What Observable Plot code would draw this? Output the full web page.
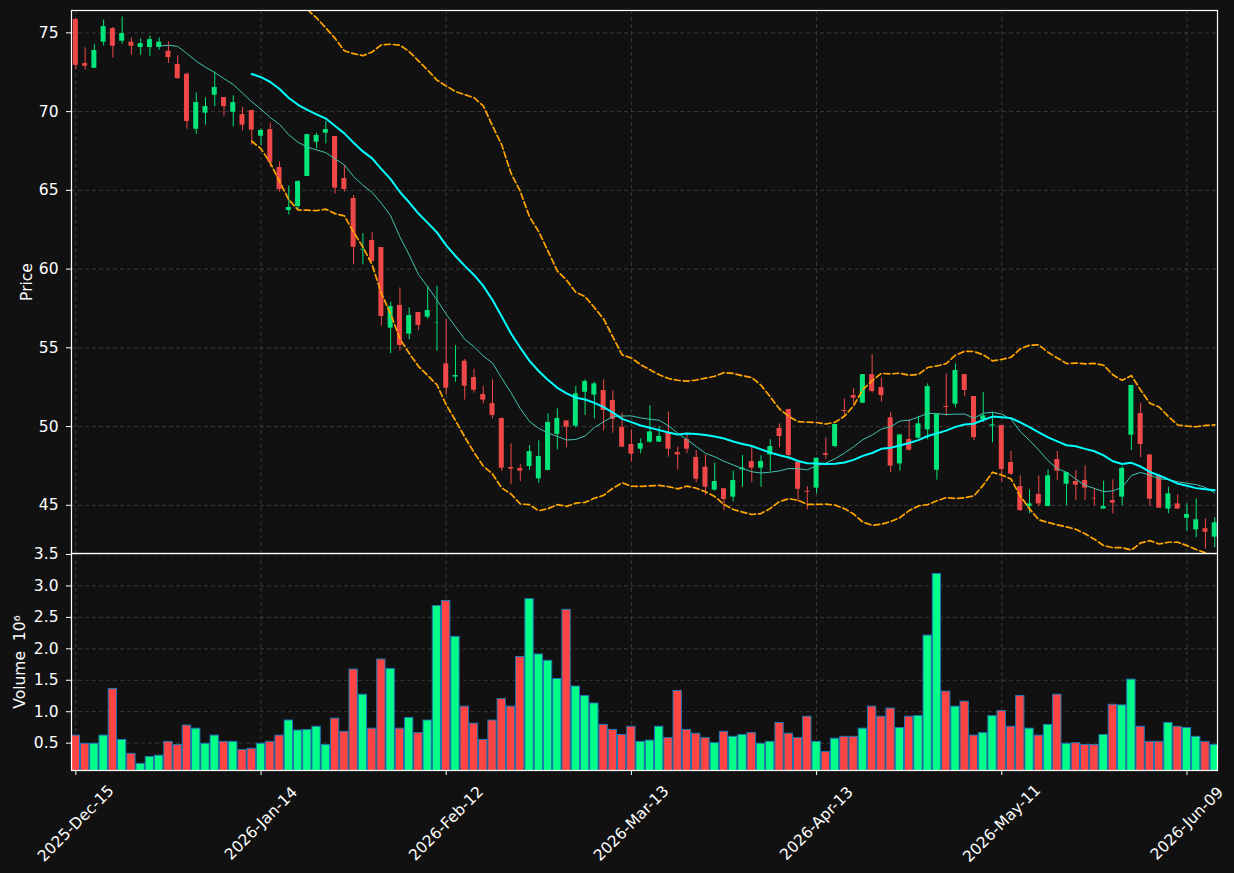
<!DOCTYPE html>
<html>
<head>
<meta charset="utf-8">
<script src="https://cdn.jsdelivr.net/npm/d3@7"></script>
<script src="https://cdn.jsdelivr.net/npm/@observablehq/plot@0.6"></script>
<style>
  html, body { margin: 0; padding: 0; background: #111111; }
  #chart { width: 1234px; height: 873px; background: #111111; }
  #chart svg { display: block; }
</style>
</head>
<body>
<div id="chart"></div>
<script>
// ---- Data ----
const tickIndex = [0, 20, 40, 60, 80, 100, 120];
const tickLabels = ["2025-Dec-15", "2026-Jan-14", "2026-Feb-12", "2026-Mar-13", "2026-Apr-13", "2026-May-11", "2026-Jun-09"];
const priceTicks = [45, 50, 55, 60, 65, 70, 75];
const volumeTicks = [0.5, 1.0, 1.5, 2.0, 2.5, 3.0, 3.5];

const opens = [
  75.85, 73.05, 72.75, 74.41, 75.27, 74.47, 74.41, 74.07, 74.07, 74.07,
  73.83, 72.99, 72.37, 68.88, 69.90, 71.04, 70.89, 69.96, 69.81, 70.07,
  68.44, 68.86, 66.45, 63.72, 63.97, 65.88, 68.06, 68.63, 68.42, 65.75,
  64.48, 61.22, 61.81, 61.37, 56.25, 57.69, 55.87, 57.24, 56.95, 56.59,
  53.98, 53.14, 54.15, 53.11, 52.04, 51.46, 50.51, 47.40, 47.34, 47.46,
  46.68, 47.21, 49.50, 50.36, 50.03, 52.18, 52.00, 52.29, 51.65, 49.94,
  48.86, 48.56, 49.01, 49.01, 49.62, 48.35, 49.18, 48.04, 47.42, 45.96,
  46.05, 45.52, 47.25, 47.78, 47.36, 48.20, 49.88, 51.08, 47.72, 45.89,
  46.09, 48.29, 48.73, 51.02, 51.97, 51.48, 53.30, 52.48, 50.55, 47.63,
  49.18, 49.26, 49.79, 47.23, 51.27, 51.42, 53.30, 51.91, 50.43, 50.03,
  50.07, 47.72, 46.19, 44.92, 45.69, 44.92, 47.91, 46.34, 46.51, 46.58,
  45.45, 44.76, 45.30, 45.52, 49.45, 50.83, 48.20, 46.89, 44.76, 45.09,
  44.18, 43.44, 43.51, 42.98
];
const highs = [
  75.90, 74.05, 74.26, 75.82, 75.34, 76.01, 74.68, 74.62, 74.81, 74.68,
  74.43, 73.54, 72.46, 71.19, 70.87, 72.52, 70.89, 71.00, 70.26, 70.07,
  68.90, 69.28, 66.81, 65.28, 65.62, 68.54, 68.63, 69.37, 68.42, 66.58,
  64.67, 62.24, 62.30, 61.37, 57.90, 58.81, 57.54, 57.24, 58.91, 58.91,
  56.78, 55.13, 54.26, 53.64, 52.54, 52.97, 50.55, 48.90, 47.61, 48.78,
  49.09, 50.81, 51.12, 50.36, 52.54, 52.97, 52.82, 52.97, 52.27, 50.85,
  49.79, 49.22, 51.32, 50.00, 50.93, 48.69, 49.54, 48.48, 48.18, 47.68,
  46.05, 47.17, 48.16, 48.69, 48.14, 49.16, 50.17, 51.08, 47.72, 46.19,
  48.00, 49.28, 50.13, 51.76, 52.40, 53.30, 54.58, 53.07, 50.91, 49.47,
  50.43, 50.66, 52.71, 50.76, 53.35, 53.98, 53.30, 51.91, 52.18, 50.91,
  50.07, 48.42, 46.87, 45.98, 46.87, 47.25, 48.42, 47.08, 47.21, 47.51,
  46.04, 46.53, 46.62, 47.46, 52.61, 51.48, 48.20, 46.89, 46.15, 45.67,
  45.09, 45.41, 44.14, 44.21
];
const lows = [
  72.67, 72.63, 72.75, 74.17, 73.41, 74.28, 73.58, 73.58, 73.52, 73.90,
  73.05, 72.04, 68.88, 68.56, 69.14, 70.32, 69.71, 69.03, 68.78, 67.87,
  67.85, 66.47, 64.88, 63.44, 63.76, 65.88, 67.63, 67.95, 64.78, 64.88,
  60.27, 60.27, 60.45, 56.37, 54.62, 54.79, 55.51, 56.10, 56.82, 54.79,
  52.00, 52.82, 51.68, 52.12, 51.44, 50.49, 47.15, 46.30, 46.50, 47.21,
  46.40, 47.21, 48.52, 48.65, 49.92, 50.70, 50.49, 49.73, 49.58, 48.69,
  47.74, 48.27, 48.95, 49.00, 48.06, 47.25, 48.27, 46.43, 45.62, 45.90,
  44.65, 45.22, 46.15, 46.43, 46.15, 47.17, 48.65, 47.89, 45.20, 44.71,
  45.73, 47.93, 48.65, 50.60, 51.40, 51.48, 52.12, 51.55, 47.06, 47.17,
  48.44, 49.26, 49.16, 46.60, 50.66, 51.19, 51.91, 49.09, 50.28, 48.97,
  46.47, 46.90, 44.60, 44.46, 44.92, 44.92, 46.58, 44.97, 45.30, 45.30,
  44.97, 44.76, 44.46, 44.97, 48.48, 48.01, 44.92, 44.82, 44.46, 44.76,
  43.36, 42.94, 42.22, 42.30
];
const closes = [
  72.94, 72.88, 73.88, 75.40, 74.15, 74.96, 74.15, 74.32, 74.57, 74.41,
  73.43, 72.10, 69.37, 70.57, 70.32, 71.53, 70.32, 70.57, 69.14, 68.82,
  68.80, 66.79, 65.05, 63.91, 65.56, 68.54, 68.48, 68.86, 65.14, 65.05,
  61.39, 61.26, 60.48, 56.99, 57.62, 55.15, 57.05, 56.42, 57.37, 56.61,
  52.44, 53.24, 52.56, 52.31, 51.68, 50.70, 47.36, 47.30, 47.17, 48.41,
  48.10, 50.26, 50.51, 49.96, 52.08, 52.86, 52.71, 51.02, 50.47, 48.69,
  48.25, 48.92, 49.66, 49.37, 48.56, 48.20, 48.56, 46.66, 46.15, 46.51,
  45.37, 46.57, 47.36, 47.36, 47.78, 48.73, 49.37, 48.16, 46.02, 45.83,
  47.99, 48.18, 50.13, 50.96, 51.80, 53.30, 52.23, 51.97, 47.49, 49.47,
  48.50, 50.17, 52.54, 50.76, 51.21, 53.56, 52.29, 49.30, 50.68, 50.11,
  47.27, 46.98, 44.67, 45.09, 45.09, 46.87, 47.17, 47.08, 46.28, 46.09,
  45.41, 44.92, 45.14, 47.34, 52.61, 48.86, 45.39, 44.82, 45.73, 44.76,
  44.42, 44.08, 43.29, 43.89
];
// volume in millions
const volumes = [
  0.62, 0.49, 0.49, 0.62, 1.36, 0.55, 0.33, 0.17, 0.28, 0.30,
  0.52, 0.47, 0.78, 0.73, 0.49, 0.62, 0.52, 0.52, 0.39, 0.41,
  0.49, 0.52, 0.62, 0.86, 0.70, 0.71, 0.76, 0.47, 0.89, 0.68,
  1.67, 1.27, 0.73, 1.83, 1.68, 0.73, 0.90, 0.66, 0.86, 2.68,
  2.76, 2.19, 1.08, 0.81, 0.55, 0.86, 1.20, 1.08, 1.87, 2.79,
  1.91, 1.81, 1.52, 2.62, 1.40, 1.25, 1.13, 0.79, 0.71, 0.63,
  0.76, 0.52, 0.54, 0.76, 0.58, 1.33, 0.71, 0.65, 0.58, 0.50,
  0.68, 0.60, 0.63, 0.66, 0.49, 0.52, 0.82, 0.65, 0.58, 0.92,
  0.52, 0.36, 0.57, 0.60, 0.60, 0.73, 1.08, 0.92, 1.05, 0.74,
  0.92, 0.93, 2.21, 3.19, 1.32, 1.08, 1.16, 0.62, 0.66, 0.93,
  1.01, 0.76, 1.25, 0.73, 0.62, 0.79, 1.27, 0.49, 0.50, 0.47,
  0.47, 0.63, 1.11, 1.10, 1.51, 0.76, 0.52, 0.52, 0.82, 0.76,
  0.74, 0.60, 0.52, 0.47
];

// ---- Style ----
const UP = "#00e67a", DOWN = "#f04848";
const UP_VOL = "#00ff88", DOWN_VOL = "#ff4444";
const BG = "#111111";
const FS = 15.5;
const GRID = { stroke: "#444444", strokeOpacity: 1, strokeWidth: 0.8, strokeDasharray: "4,3" };
const FONT = { background: BG, color: "#ffffff", fontFamily: "'DejaVu Sans', sans-serif", fontSize: FS + "px", overflow: "visible" };

// ---- Derived indicators (rolling mean / Bollinger 20, 2σ) ----
function rollingMean(arr, n) {
  return arr.map((_, i) => i < n - 1 ? null : d3.mean(arr.slice(i - n + 1, i + 1)));
}
function rollingDev(arr, n) {
  return arr.map((_, i) => i < n - 1 ? null : d3.deviation(arr.slice(i - n + 1, i + 1)));
}
const ma10 = rollingMean(closes, 10);
const ma20 = rollingMean(closes, 20);
const sd20 = rollingDev(closes, 20);

const data = closes.map((c, i) => ({
  i,
  open: opens[i], high: highs[i], low: lows[i], close: c,
  volume: volumes[i],
  up: c >= opens[i],
  ma10: ma10[i], ma20: ma20[i],
  bbUp: ma20[i] == null ? null : ma20[i] + 2 * sd20[i],
  bbLo: ma20[i] == null ? null : ma20[i] - 2 * sd20[i]
}));

const xDomain = [-0.47, 123.3];

const pricePlot = Plot.plot({
  width: 1234, height: 553,
  marginLeft: 71, marginRight: 17, marginTop: 10, marginBottom: 0,
  style: FONT,
  x: { type: "linear", domain: xDomain, axis: null },
  y: { domain: [41.94, 76.42], axis: null },
  marks: [
    Plot.gridX(tickIndex, GRID),
    Plot.gridY(priceTicks, GRID),
    Plot.ruleX(data, { x: "i", y1: "low", y2: "high", stroke: d => d.up ? UP : DOWN, strokeWidth: 1, clip: true }),
    Plot.rect(data, {
      x1: d => d.i - 0.27, x2: d => d.i + 0.27,
      y1: "open", y2: "close",
      fill: d => d.up ? UP : DOWN, clip: true
    }),
    Plot.line(data, { x: "i", y: "ma10", stroke: "#3fc4b2", strokeWidth: 1, clip: true }),
    Plot.line(data, { x: "i", y: "ma20", stroke: "#00ffff", strokeWidth: 2, clip: true }),
    Plot.line(data, { x: "i", y: "bbUp", stroke: "#ffa500", strokeWidth: 1.7, strokeDasharray: "6,3", clip: true }),
    Plot.line(data, { x: "i", y: "bbLo", stroke: "#ffa500", strokeWidth: 1.7, strokeDasharray: "6,3", clip: true }),
    Plot.axisY(priceTicks, { tickSize: 5, tickPadding: 8, stroke: "#ffffff", fill: "#ffffff", label: null }),
    Plot.text(["Price"], { frameAnchor: "left", rotate: -90, textAnchor: "middle", lineAnchor: "middle", dx: -44, fill: "#ffffff", fontSize: FS }),
    Plot.frame({ stroke: "#ffffff", strokeWidth: 1.2 })
  ]
});

const volumePlot = Plot.plot({
  width: 1234, height: 320,
  marginLeft: 71, marginRight: 17, marginTop: 0, marginBottom: 103,
  style: FONT,
  x: { type: "linear", domain: xDomain, axis: null },
  y: { domain: [0.065, 3.516], axis: null },
  marks: [
    Plot.gridX(tickIndex, GRID),
    Plot.gridY(volumeTicks, GRID),
    Plot.rectY(data, {
      x1: d => d.i - 0.45, x2: d => d.i + 0.45,
      y: "volume",
      fill: d => d.up ? UP_VOL : DOWN_VOL,
      stroke: "#1f77b4", strokeWidth: 1, clip: true
    }),
    Plot.axisY(volumeTicks, { tickSize: 5, tickPadding: 8, stroke: "#ffffff", fill: "#ffffff", label: null, tickFormat: d => d.toFixed(1) }),
    Plot.axisX(tickIndex, { tickSize: 5, stroke: "#ffffff", text: null, label: null }),
    Plot.text(tickIndex, {
      x: d => d, frameAnchor: "bottom",
      text: (d, i) => tickLabels[i],
      rotate: -45, textAnchor: "middle", lineAnchor: "middle",
      dy: 53, fill: "#ffffff", fontSize: FS
    }),
    Plot.text(["Volume  10⁶"], { frameAnchor: "left", rotate: -90, textAnchor: "middle", lineAnchor: "middle", dx: -51, fill: "#ffffff", fontSize: FS }),
    Plot.frame({ stroke: "#ffffff", strokeWidth: 1.2 })
  ]
});

const chart = document.getElementById("chart");
chart.appendChild(pricePlot);
chart.appendChild(volumePlot);
</script>
</body>
</html>
